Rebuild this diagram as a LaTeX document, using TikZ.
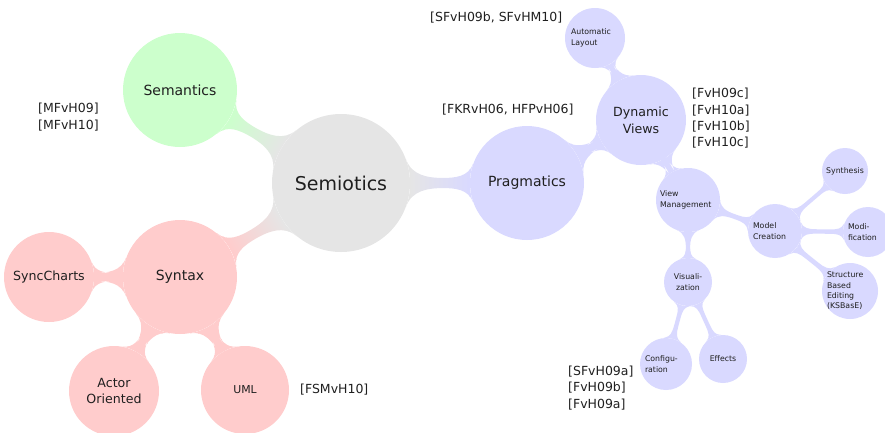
\documentclass[tikz,border=0pt]{standalone}
\usepackage{fontspec}
\setmainfont{DejaVu Sans}
\usetikzlibrary{mindmap,backgrounds}

\colorlet{semgray}{black!10}
\colorlet{semgreen}{green!20}
\colorlet{semred}{red!20}
\colorlet{semblue}{blue!15}
\colorlet{inkcol}{black!88}

\tikzset{
  bubble/.style={circle, fill=#1, inner sep=-8pt, text=inkcol},
  rootfont/.style={font=\fontsize{19}{23}\selectfont},
  bigfont/.style={font=\fontsize{14}{17}\selectfont},
  midfont/.style={font=\fontsize{12.6}{16.6}\selectfont},
  smallfont/.style={font=\fontsize{7.8}{10.4}\selectfont},
  ref/.style={inner sep=0pt, anchor=west, align=left, text=inkcol,
    font=\fontsize{12.5}{16.3}\selectfont},
  link/.style 2 args={circle connection bar switch color=from (#1) to (#2)},
}

\begin{document}
\begin{tikzpicture}[x=1pt, y=-1pt]
\useasboundingbox (0,0) rectangle (885,432);

% root and first level
\node[bubble=semgray, minimum size=138pt, rootfont] (semiotics) at (341,183) {Semiotics};
\node[bubble=semgreen, minimum size=114pt, bigfont] (semantics) at (180,90) {Semantics};
\node[bubble=semred, minimum size=114pt, bigfont] (syntax) at (180,277) {Syntax};
\node[bubble=semblue, minimum size=114pt, bigfont] (pragmatics) at (527,183) {Pragmatics};

% syntax branch
\node[bubble=semred, minimum size=90pt, midfont] (syncharts) at (49,277) {SyncCharts};
\node[bubble=semred, minimum size=90pt, midfont, align=center] (actor) at (114,391) {Actor\\Oriented};
\node[bubble=semred, minimum size=88pt, font=\fontsize{10.9}{13}\selectfont] (uml) at (245,390) {UML};

% pragmatics branch
\node[bubble=semblue, minimum size=90pt, midfont, align=center] (dynviews) at (641,120) {Dynamic\\Views};
\node[bubble=semblue, minimum size=60pt, smallfont, text width=48pt, align=left] (autolayout) at (595,38) {Automatic\\Layout};
\node[bubble=semblue, minimum size=64pt, smallfont, text width=56pt, align=left] (viewmgmt) at (688,200) {View\\Management};
\node[bubble=semblue, minimum size=54pt, smallfont, text width=44pt, align=left] (modelcreation) at (775,231) {Model\\Creation};
\node[bubble=semblue, minimum size=46pt, smallfont] (synthesis) at (845,171) {Synthesis};
\node[bubble=semblue, minimum size=50pt, smallfont, text width=40pt, align=left] (modification) at (868,232) {Modi-\\fication};
\node[bubble=semblue, minimum size=56pt, smallfont, text width=46pt, align=left] (sbe) at (850,291) {Structure\\Based\\Editing\\(KSBasE)};
\node[bubble=semblue, minimum size=48pt, smallfont, align=center] (visualization) at (688,282) {Visuali-\\zation};
\node[bubble=semblue, minimum size=52pt, smallfont, text width=42pt, align=left] (configuration) at (666,364) {Configu-\\ration};
\node[bubble=semblue, minimum size=48pt, smallfont] (effects) at (723,359) {Effects};

% references
\node[ref] (refsem) at (38,117) {[MFvH09]\\{}[MFvH10]};
\node[ref] (refuml) at (300,390) {[FSMvH10]};
\node[ref] (refprag) at (442,110) {[FKRvH06, HFPvH06]};
\node[ref] (reflayout) at (430,18) {[SFvH09b, SFvHM10]};
\node[ref] (refdyn) at (692,118.5) {[FvH09c]\\{}[FvH10a]\\{}[FvH10b]\\{}[FvH10c]};
\node[ref] (refconf) at (568,388) {[SFvH09a]\\{}[FvH09b]\\{}[FvH09a]};

% connection bars
\begin{scope}[on background layer]
  \path[line width=9pt] (semiotics) to[link={semgray}{semgreen}] (semantics);
  \path[line width=9pt] (semiotics) to[link={semgray}{semred}] (syntax);
  \path[line width=9pt] (semiotics) to[link={semgray}{semblue}] (pragmatics);

  \path[line width=7pt] (syntax) to[link={semred}{semred}] (syncharts);
  \path[line width=7pt] (syntax) to[link={semred}{semred}] (actor);
  \path[line width=7pt] (syntax) to[link={semred}{semred}] (uml);

  \path[line width=7pt] (pragmatics) to[link={semblue}{semblue}] (dynviews);
  \path[line width=6pt] (dynviews) to[link={semblue}{semblue}] (autolayout);
  \path[line width=6pt] (dynviews) to[link={semblue}{semblue}] (viewmgmt);
  \path[line width=5.5pt] (viewmgmt) to[link={semblue}{semblue}] (modelcreation);
  \path[line width=5.5pt] (viewmgmt) to[link={semblue}{semblue}] (visualization);
  \path[line width=4.5pt] (modelcreation) to[link={semblue}{semblue}] (synthesis);
  \path[line width=4.5pt] (modelcreation) to[link={semblue}{semblue}] (modification);
  \path[line width=4.5pt] (modelcreation) to[link={semblue}{semblue}] (sbe);
  \path[line width=4.5pt] (visualization) to[link={semblue}{semblue}] (configuration);
  \path[line width=4.5pt] (visualization) to[link={semblue}{semblue}] (effects);
\end{scope}
\end{tikzpicture}
\end{document}
